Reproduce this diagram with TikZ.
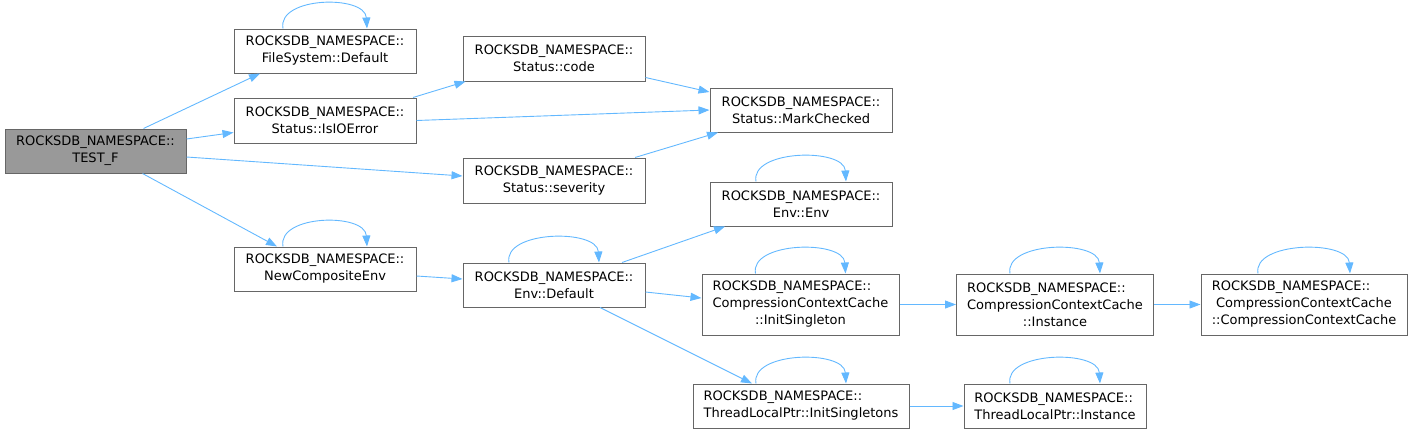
\documentclass[tikz,border=0pt]{standalone}
\usepackage{fontspec}
\setmainfont{DejaVu Sans}
\usepackage{calc}
\usetikzlibrary{arrows.meta}
\definecolor{edgecol}{HTML}{63B8FF}
\definecolor{bordcol}{HTML}{666666}
\definecolor{rootfill}{HTML}{999999}
\newcommand\nsl[1]{\makebox[\widthof{#1}][l]{ROCKSDB\_NAMESPACE::}}
\newcommand\selfloop[2]{\draw[edge] ([xshift=-#2]#1.north) .. controls ([xshift=-#2-6pt,yshift=32pt]#1.north) and ([xshift=#2-2pt,yshift=34pt]#1.north) .. ([xshift=#2]#1.north);}
\tikzset{
  box/.style={draw=bordcol, fill=white, line width=1pt, inner sep=0pt, align=center,
    font=\fontsize{13}{17}\selectfont, text=black, minimum height=44pt, minimum width=182pt},
  edge/.style={draw=edgecol, line width=0.9pt, -{Triangle[length=11pt,width=8pt]}},
}
\begin{document}
\begin{tikzpicture}[x=1pt,y=-1pt]
\useasboundingbox (0,0) rectangle (1413,434);
\node[box, fill=rootfill, minimum width=181pt] (tf) at (95.5,151) {ROCKSDB\_NAMESPACE::\\TEST\_F};
\node[box] (fs) at (325,51) {ROCKSDB\_NAMESPACE::\\FileSystem::Default};
\node[box, minimum height=45pt] (io) at (325,120.5) {ROCKSDB\_NAMESPACE::\\Status::IsIOError};
\node[box] (nc) at (325,269) {ROCKSDB\_NAMESPACE::\\NewCompositeEnv};
\node[box, minimum height=45pt] (code) at (554,58.5) {ROCKSDB\_NAMESPACE::\\Status::code};
\node[box, minimum height=45pt] (sv) at (554,180.5) {ROCKSDB\_NAMESPACE::\\Status::severity};
\node[box] (mc) at (801,110) {ROCKSDB\_NAMESPACE::\\Status::MarkChecked};
\node[box] (ed) at (554,285) {ROCKSDB\_NAMESPACE::\\Env::Default};
\node[box] (ee) at (801,204) {ROCKSDB\_NAMESPACE::\\Env::Env};
\node[box, minimum width=197pt, minimum height=61pt] (is) at (800.5,304.5) {\nsl{CompressionContextCache}\\CompressionContextCache\\::InitSingleton};
\node[box, minimum width=197pt, minimum height=61pt] (ci) at (1055,304.5) {\nsl{CompressionContextCache}\\CompressionContextCache\\::Instance};
\node[box, minimum width=206pt, minimum height=61pt] (cc) at (1304,304.5) {\nsl{::CompressionContextCache}\\CompressionContextCache\\::CompressionContextCache};
\node[box, minimum width=216pt] (tis) at (801,406) {\nsl{ThreadLocalPtr::InitSingletons}\\ThreadLocalPtr::InitSingletons};
\node[box] (ti) at (1055,406) {\nsl{ThreadLocalPtr::Instance}\\ThreadLocalPtr::Instance};
% edges
\draw[edge] ([xshift=48pt]tf.north) -- ([xshift=-65pt]fs.south);
\draw[edge] ([yshift=12pt]tf.east) -- ([yshift=-12pt]io.west);
\draw[edge] ([yshift=-6pt]tf.east) -- ([yshift=4.5pt]sv.west);
\draw[edge] ([xshift=47pt]tf.south) -- ([xshift=-48pt]nc.north);
\draw[edge] ([xshift=88pt]io.north) -- ([xshift=3pt]code.south west);
\draw[edge] (io.east) -- (mc.west);
\draw[edge] ([yshift=-19pt]code.east) -- ([yshift=18pt]mc.west);
\draw[edge] ([xshift=81pt]sv.north) -- ([xshift=-83pt]mc.south);
\draw[edge] ([yshift=-7pt]nc.east) -- ([yshift=6pt]ed.west);
\draw[edge] ([xshift=68pt]ed.north) -- ([xshift=-76pt]ee.south);
\draw[edge] ([yshift=-7pt]ed.east) -- ([yshift=6.5pt]is.west);
\draw[edge] ([xshift=46pt]ed.south) -- ([xshift=-49pt]tis.north);
\draw[edge] (is.east) -- (ci.west);
\draw[edge] (ci.east) -- (cc.west);
\draw[edge] (tis.east) -- (ti.west);
% self loops
\selfloop{fs}{42pt}
\selfloop{nc}{42pt}
\selfloop{ed}{45pt}
\selfloop{ee}{45pt}
\selfloop{is}{45pt}
\selfloop{ci}{45pt}
\selfloop{cc}{46pt}
\selfloop{tis}{45pt}
\selfloop{ti}{45pt}
\end{tikzpicture}
\end{document}
